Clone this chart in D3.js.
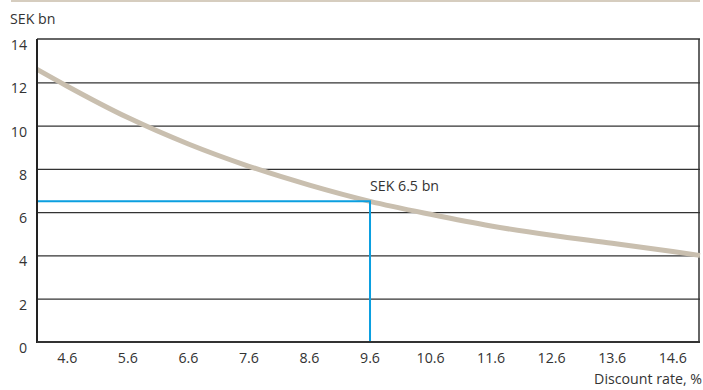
<!DOCTYPE html>
<html>
<head>
<meta charset="utf-8">
<script src="https://cdn.jsdelivr.net/npm/d3@7"></script>
<style>
  body { margin: 0; background: #fff; }
  svg text { font-family: "Open Sans", sans-serif; fill: #333; }
</style>
</head>
<body>
<svg id="chart" width="703" height="390"></svg>
<script>
// discount rate (%) vs value (SEK bn)
const rates  = [4.1, 4.6, 5.6, 6.6, 7.6, 8.6, 9.6, 10.6, 11.6, 12.6, 13.6, 14.6, 15.05];
const values = [12.6, 11.82, 10.37, 9.15, 8.12, 7.25, 6.5, 5.9, 5.36, 4.93, 4.56, 4.18, 4.0];
const xTicks = [4.6, 5.6, 6.6, 7.6, 8.6, 9.6, 10.6, 11.6, 12.6, 13.6, 14.6];
const yTicks = [0, 2, 4, 6, 8, 10, 12, 14];
const markRate = 9.6, markValue = 6.5;

const svg = d3.select('#chart');
const mLeft = 37, mRight = 700, mTop = 39, mBottom = 342;
const fs = 14.2;

const x = d3.scaleLinear().domain([4.1, 15.05]).range([mLeft, mRight]);
const y = d3.scaleLinear().domain([0, 14]).range([mBottom, mTop]);

// beige rule at the top
svg.append('line')
  .attr('x1', 11).attr('x2', 700).attr('y1', 1).attr('y2', 1)
  .attr('stroke', '#d6cdbf').attr('stroke-width', 2);

svg.append('text').attr('x', 10).attr('y', 24)
  .attr('font-size', fs).text('SEK bn');

// gridlines
svg.append('g').selectAll('line')
  .data(yTicks.filter(d => d > 0 && d < 14))
  .join('line')
  .attr('x1', mLeft).attr('x2', mRight)
  .attr('y1', d => y(d) + 0.5).attr('y2', d => y(d) + 0.5)
  .attr('stroke', '#333').attr('stroke-width', 1.2);

// frame
svg.append('line').attr('x1', mLeft).attr('x2', mRight)
  .attr('y1', y(14)).attr('y2', y(14))
  .attr('stroke', '#666').attr('stroke-width', 2);
svg.append('line').attr('x1', mRight - 1).attr('x2', mRight - 1)
  .attr('y1', y(14)).attr('y2', y(0))
  .attr('stroke', '#333').attr('stroke-width', 1.5);

// y labels
svg.append('g').selectAll('text')
  .data(yTicks)
  .join('text')
  .attr('x', 27).attr('y', d => y(d) + 11)
  .attr('text-anchor', 'end').attr('font-size', fs)
  .text(d => d);

// x labels
svg.append('g').selectAll('text')
  .data(xTicks)
  .join('text')
  .attr('x', d => x(d)).attr('y', 363)
  .attr('text-anchor', 'middle').attr('font-size', fs)
  .text(d => d.toFixed(1));

svg.append('text').attr('x', 702).attr('y', 384)
  .attr('text-anchor', 'end').attr('font-size', fs)
  .text('Discount rate, %');

// curve
svg.append('path')
  .datum(rates.map((r, i) => [r, values[i]]))
  .attr('fill', 'none')
  .attr('stroke', '#c9bfaf')
  .attr('stroke-width', 5)
  .attr('d', d3.line().x(d => x(d[0])).y(d => y(d[1])).curve(d3.curveMonotoneX));

// marker lines
svg.append('path')
  .attr('fill', 'none').attr('stroke', '#0b9fe0').attr('stroke-width', 2)
  .attr('d', `M${x(4.1)},${y(markValue)}H${x(markRate)}V${y(0)}`);

svg.append('text').attr('x', x(markRate)).attr('y', 191)
  .attr('font-size', fs).text('SEK 6.5 bn');

// axes (left + bottom)
svg.append('line').attr('x1', mLeft).attr('x2', mLeft)
  .attr('y1', y(14)).attr('y2', y(0) + 1)
  .attr('stroke', '#222').attr('stroke-width', 2);
svg.append('line').attr('x1', mLeft).attr('x2', mRight)
  .attr('y1', y(0)).attr('y2', y(0))
  .attr('stroke', '#333').attr('stroke-width', 2);
</script>
</body>
</html>
